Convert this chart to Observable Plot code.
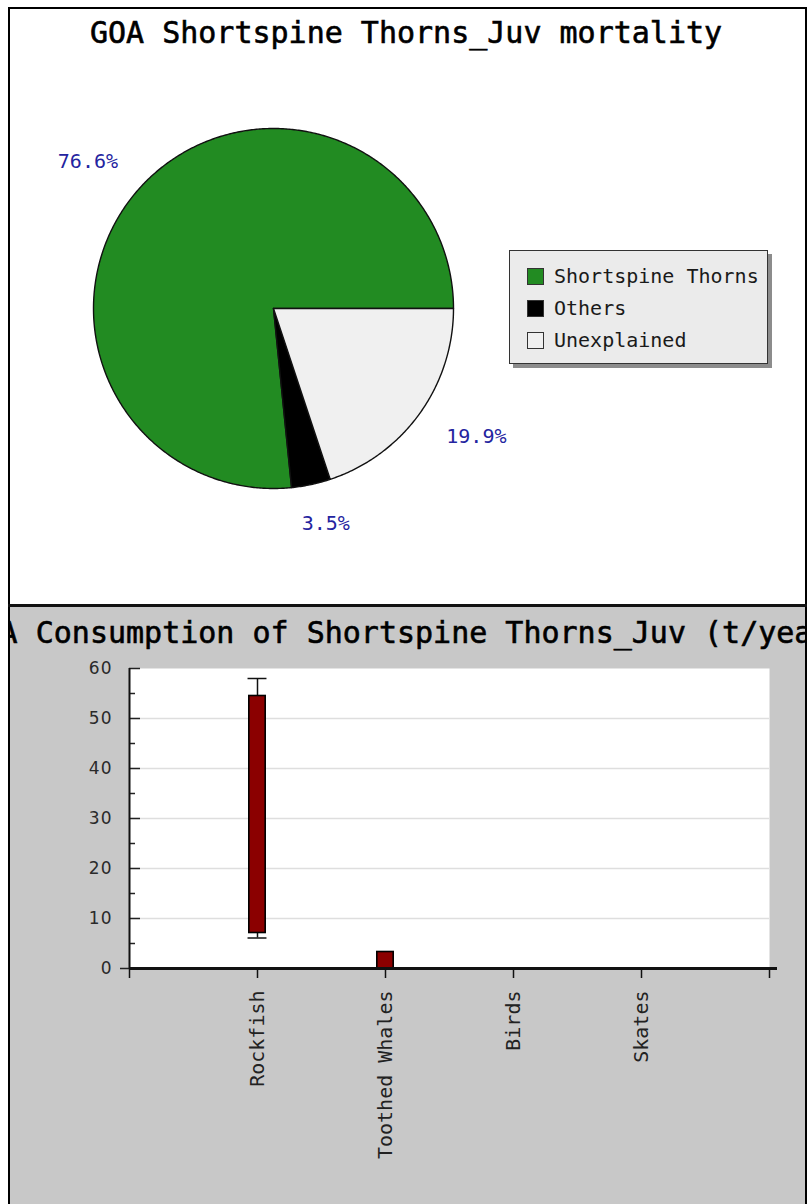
<!DOCTYPE html>
<html><head><meta charset="utf-8">
<script src="https://cdn.jsdelivr.net/npm/d3@7"></script>
<script src="https://cdn.jsdelivr.net/npm/@observablehq/plot@0.6"></script>
<style>
body{margin:0;background:#fff;width:807px;height:1204px;position:relative;overflow:hidden;font-family:"DejaVu Sans Mono",monospace;}
.abs{position:absolute;}
#toppanel{left:8px;top:7px;width:799px;height:597px;box-sizing:border-box;border:2px solid #000;border-bottom:none;background:#fff;}
#sep{left:8px;top:604px;width:799px;height:3px;background:#111;}
#bottompanel{left:8px;top:607px;width:799px;height:597px;box-sizing:border-box;border-left:2px solid #000;border-right:2px solid #000;background:#c8c8c8;overflow:hidden;}
.title{font-family:"DejaVu Sans Mono",monospace;font-size:30px;line-height:30px;font-weight:normal;-webkit-text-stroke:0.6px #000;white-space:nowrap;text-align:center;color:#000;width:1000px;}
#legend{left:509px;top:250px;width:259px;height:114px;box-sizing:border-box;border:1.5px solid #333;background:#ebebeb;box-shadow:4px 4px 0 #8c8c8c;}
.lrow{position:absolute;left:17px;height:18px;}
.sw{position:absolute;left:0;top:1px;width:17px;height:17px;box-sizing:border-box;border:1.5px solid #333;}
.lt{position:absolute;left:27px;top:-1px;font-family:"DejaVu Sans Mono",monospace;font-size:20px;line-height:20px;white-space:nowrap;color:#1a1a1a;}
</style></head><body>
<div id="toppanel" class="abs"></div>
<div id="sep" class="abs"></div>
<div id="bottompanel" class="abs"><div id="btitle" class="abs title" style="left:-104px;top:11px;"></div></div>
<div id="ttitle" class="abs title" style="left:-94px;top:18px;"></div>
<script>
// ---- Data ----
const topTitle = "GOA Shortspine Thorns_Juv mortality";
const bottomTitle = "GOA Consumption of Shortspine Thorns_Juv (t/year)";

const pieLabels = ["Shortspine Thorns", "Others", "Unexplained"];
const pieValues = [76.6, 3.5, 19.9];
const pieColors = ["#228b22", "#000000", "#f0f0f0"];

const predators = ["Rockfish", "Toothed Whales", "Birds", "Skates"];
const consLow   = [7.1, 0, 0, 0];
const consHigh  = [54.5, 3.3, 0, 0];
const whiskLow  = [6.1, 0, 0, 0];
const whiskHigh = [58.0, 3.3, 0, 0];

const yTicks = [0, 10, 20, 30, 40, 50, 60];
const yMinorTicks = [5, 15, 25, 35, 45, 55];

// ---- Titles ----
document.getElementById("ttitle").textContent = topTitle;
document.getElementById("btitle").textContent = bottomTitle;

// ---- Pie ----
const total = d3.sum(pieValues);
let acc = 0;
const slices = pieValues.map((v, i) => {
  const a0 = acc / total * 2 * Math.PI;
  acc += v;
  const a1 = acc / total * 2 * Math.PI;
  const n = Math.max(2, Math.ceil((a1 - a0) / (Math.PI / 360)));
  const pts = [{x: 0, y: 0}];
  for (let k = 0; k <= n; k++) {
    const a = a0 + (a1 - a0) * k / n;
    pts.push({x: Math.cos(a), y: Math.sin(a)});
  }
  pts.push({x: 0, y: 0});
  return {label: pieLabels[i], value: v, color: pieColors[i], mid: (a0 + a1) / 2, pts};
});

const pie = Plot.plot({
  width: 807, height: 604,
  marginLeft: 93, marginRight: 354, marginTop: 128, marginBottom: 116,
  x: {domain: [-1, 1], axis: null},
  y: {domain: [-1, 1], axis: null},
  style: {background: "transparent", overflow: "visible"},
  marks: [
    ...slices.map(s => Plot.line(s.pts, {x: "x", y: "y", fill: s.color, stroke: "#111", strokeWidth: 1.4, curve: "linear"})),
    Plot.text(slices, {
      x: d => 1.39 * Math.cos(d.mid), y: d => 1.22 * Math.sin(d.mid),
      text: d => d.value.toFixed(1) + "%",
      fill: "#2424a0", fontSize: 20, fontFamily: "DejaVu Sans Mono"
    })
  ]
});
pie.style.position = "absolute"; pie.style.left = "0px"; pie.style.top = "0px";
document.body.appendChild(pie);

// ---- Legend ----
const legend = document.createElement("div");
legend.id = "legend"; legend.className = "abs";
pieLabels.forEach((lab, i) => {
  const row = document.createElement("div");
  row.className = "lrow";
  row.style.top = (16 + i * 32) + "px";
  const sw = document.createElement("div");
  sw.className = "sw"; sw.style.background = pieColors[i];
  const t = document.createElement("div");
  t.className = "lt"; t.textContent = lab;
  row.appendChild(sw); row.appendChild(t);
  legend.appendChild(row);
});
document.body.appendChild(legend);

// ---- Bar chart ----
const rows = predators.map((name, i) => ({name, pos: i + 1, lo: consLow[i], hi: consHigh[i], wlo: whiskLow[i], whi: whiskHigh[i]}));
const W = 807, ML = 129, MR = 38;
const plotW = W - ML - MR;
const barHalf = 0.064, capHalf = 0.074;
const upper = rows.filter(d => d.whi > d.hi);
const lower = rows.filter(d => d.wlo < d.lo);

const bars = Plot.plot({
  width: W, height: 597,
  marginLeft: ML, marginRight: MR, marginTop: 61, marginBottom: 236,
  x: {domain: [0, predators.length + 1], axis: null},
  y: {domain: [0, 60], axis: null},
  style: {background: "transparent", overflow: "visible"},
  marks: [
    Plot.frame({fill: "white", stroke: "none"}),
    Plot.gridY(yTicks.filter(t => t > 0 && t < 60), {stroke: "#dedede", strokeOpacity: 1, strokeWidth: 1.5}),
    Plot.ruleY(yMinorTicks, {insetRight: plotW - 6, stroke: "#222", strokeWidth: 1.5}),
    Plot.ruleY(yTicks.filter(t => t > 0), {insetRight: plotW - 11, stroke: "#222", strokeWidth: 1.5}),
    Plot.axisY(yTicks, {tickSize: 0, tickPadding: 17, fontSize: 17, fontFamily: "DejaVu Sans", fill: "#2a2a2a", label: null}),
    Plot.axisY([0], {tickSize: 9, fill: "none", stroke: "#222", strokeWidth: 1.5, label: null}),
    Plot.ruleX(upper, {x: "pos", y1: "hi", y2: "whi", stroke: "#111", strokeWidth: 1.5}),
    Plot.ruleX(lower, {x: "pos", y1: "wlo", y2: "lo", stroke: "#111", strokeWidth: 1.5}),
    Plot.ruleY(upper, {y: "whi", x1: d => d.pos - capHalf, x2: d => d.pos + capHalf, stroke: "#111", strokeWidth: 1.5}),
    Plot.ruleY(lower, {y: "wlo", x1: d => d.pos - capHalf, x2: d => d.pos + capHalf, stroke: "#111", strokeWidth: 1.5}),
    Plot.rectY(rows.filter(d => d.hi > d.lo), {x1: d => d.pos - barHalf, x2: d => d.pos + barHalf, y1: "lo", y2: "hi", fill: "#8b0000", stroke: "#000", strokeWidth: 1.6}),
    Plot.ruleX([0], {stroke: "#111", strokeWidth: 2}),
    Plot.ruleY([0], {stroke: "#111", strokeWidth: 3, insetRight: -8}),
    Plot.axisX(d3.range(0, predators.length + 2), {
      tickSize: 10, tickPadding: 12, tickRotate: -90,
      tickFormat: i => predators[i - 1] ?? "",
      fontSize: 20, fontFamily: "DejaVu Sans Mono", fill: "#222", stroke: "#111", strokeWidth: 1.5,
      textAnchor: "end", label: null
    })
  ]
});
bars.style.position = "absolute"; bars.style.left = "0px"; bars.style.top = "607px";
document.body.appendChild(bars);
d3.select(bars).selectAll("g[aria-label='y-axis tick label'] text").style("letter-spacing", "1px");
</script>
</body></html>
